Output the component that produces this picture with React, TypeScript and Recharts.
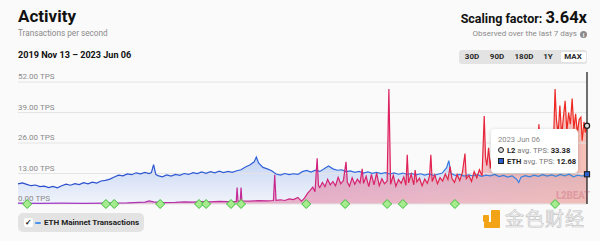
import React from "react";
import {
  ComposedChart,
  Area,
  Line,
  XAxis,
  YAxis,
  ReferenceLine,
  ReferenceDot,
} from "recharts";

// days since 2019 Nov 13, tps
const yTicks = [0, 13, 26, 39, 52];
const ranges = ["30D", "90D", "180D", "1Y", "MAX"];
const milestoneDays = [21, 201, 220, 325, 414, 430, 487, 510, 659, 748, 844, 880, 999, 1228];

const ethSeries: [number, number][] = [
  [0, 8.6], [10, 9.0], [20, 8.4], [30, 7.8], [40, 8.1], [50, 7.4], [60, 7.6], [70, 7.0],
  [80, 7.5], [90, 6.9], [100, 7.8], [110, 8.5], [120, 8.0], [130, 8.7], [140, 8.3], [150, 9.1],
  [160, 8.6], [170, 9.3], [180, 8.9], [190, 9.8], [200, 10.1], [210, 10.6], [220, 11.5], [230, 12.3],
  [240, 12.0], [250, 12.8], [260, 12.5], [270, 13.3], [280, 12.9], [290, 13.5], [300, 13.0], [305, 13.4],
  [310, 16.8], [315, 12.6], [320, 12.1], [330, 11.6], [340, 12.4], [350, 11.9], [360, 12.6], [370, 12.2],
  [380, 13.0], [390, 12.6], [400, 13.4], [410, 13.0], [420, 13.7], [430, 13.1], [440, 13.8], [450, 13.3],
  [460, 14.0], [470, 13.4], [480, 13.9], [490, 13.5], [500, 14.2], [510, 14.6], [520, 15.8], [530, 16.6],
  [540, 18.0], [545, 20.0], [550, 17.5], [560, 15.6], [570, 15.0], [580, 14.2], [590, 12.8], [600, 12.3],
  [610, 13.0], [620, 12.5], [630, 12.9], [640, 12.6], [650, 13.8], [660, 14.3], [670, 13.6], [680, 14.4],
  [690, 13.9], [700, 15.0], [710, 16.2], [720, 15.0], [730, 14.4], [740, 14.6], [750, 13.8], [760, 14.1],
  [770, 13.5], [780, 13.9], [790, 13.2], [800, 13.7], [810, 13.1], [820, 13.5], [830, 13.0], [840, 13.4],
  [850, 12.8], [860, 13.3], [870, 12.7], [880, 13.2], [890, 12.6], [900, 13.0], [910, 12.4], [920, 12.9],
  [930, 12.3], [940, 12.8], [950, 12.2], [960, 12.7], [970, 13.2], [980, 15.5], [985, 18.5], [990, 13.0],
  [1000, 12.2], [1010, 12.6], [1020, 11.9], [1030, 12.4], [1040, 12.0], [1050, 12.5], [1060, 11.8], [1070, 12.3],
  [1080, 12.0], [1090, 12.6], [1100, 11.7], [1110, 12.2], [1120, 11.5], [1130, 12.0], [1140, 10.6], [1145, 9.2],
  [1150, 11.4], [1160, 12.1], [1170, 11.6], [1180, 12.3], [1190, 11.8], [1200, 12.5], [1210, 11.9], [1220, 12.4],
  [1230, 11.8], [1240, 12.6], [1250, 12.0], [1260, 12.7], [1270, 11.6], [1280, 12.3], [1290, 11.9], [1301, 12.68],
];

const l2Series: [number, number][] = [
  [0, 0.4], [50, 0.3], [100, 0.4], [150, 0.3], [200, 0.4], [250, 0.5], [290, 0.8], [300, 1.3],
  [310, 0.9], [330, 0.6], [360, 0.7], [380, 0.9], [400, 0.8], [420, 1.0], [440, 0.9], [460, 1.1],
  [480, 1.0], [499, 1.0], [501, 7.0], [503, 1.2], [508, 1.1], [510, 7.0], [512, 1.3], [530, 1.2],
  [550, 1.4], [570, 1.3], [584, 1.5], [587, 12.5], [590, 1.6], [600, 1.8], [610, 1.5], [620, 2.2],
  [630, 1.9], [640, 2.8], [648, 1.2], [655, 2.5], [662, 4.5], [668, 5.8], [674, 7.2], [679, 5.2],
  [684, 19.5], [687, 8.0], [690, 7.0], [696, 9.2], [702, 7.4], [708, 10.5], [714, 8.2], [720, 9.6],
  [726, 7.8], [732, 11.4], [738, 8.6], [744, 10.0], [750, 18.0], [753, 9.4], [758, 7.6], [764, 11.2],
  [770, 8.4], [776, 10.6], [782, 9.0], [787, 15.0], [790, 8.8], [796, 11.8], [802, 7.4], [808, 12.6],
  [814, 8.2], [820, 13.2], [826, 7.8], [832, 10.8], [838, 8.6], [844, 9.8], [848, 49.0], [852, 8.4],
  [858, 12.2], [864, 7.6], [870, 10.4], [876, 8.8], [882, 11.6], [887, 8.0], [890, 21.0], [893, 9.0],
  [899, 12.8], [905, 8.2], [908, 14.5], [912, 9.4], [918, 11.0], [924, 7.8], [930, 10.6], [936, 8.8],
  [941, 12.0], [944, 21.0], [947, 9.6], [953, 12.4], [959, 8.6], [965, 11.2], [971, 9.8], [977, 12.8],
  [983, 10.4], [988, 16.0], [992, 11.0], [998, 9.2], [1004, 12.6], [1010, 10.0], [1016, 13.4], [1022, 21.5],
  [1025, 10.8], [1031, 12.2], [1037, 9.6], [1043, 13.8], [1049, 11.2], [1055, 14.6], [1061, 12.0], [1066, 37.5],
  [1069, 20.0], [1072, 16.4], [1076, 24.0], [1080, 15.2], [1084, 21.6], [1089, 17.0], [1095, 19.6], [1101, 15.8],
  [1107, 22.4], [1113, 17.2], [1119, 20.2], [1125, 16.0], [1130, 31.5], [1133, 18.4], [1139, 21.0], [1145, 15.6],
  [1151, 19.2], [1157, 23.0], [1163, 17.4], [1169, 20.6], [1175, 18.0], [1181, 24.6], [1187, 19.4], [1191, 34.0],
  [1195, 21.0], [1201, 25.5], [1207, 22.0], [1213, 28.0], [1219, 24.0], [1225, 30.0], [1228, 49.0], [1231, 36.0],
  [1235, 30.0], [1239, 42.0], [1243, 29.0], [1247, 37.0], [1251, 44.0], [1255, 31.0], [1259, 39.0], [1263, 34.0],
  [1267, 45.0], [1271, 32.0], [1275, 38.5], [1279, 30.0], [1283, 36.0], [1287, 37.0], [1290, 27.0], [1294, 35.0],
  [1297, 30.5], [1301, 33.38],
];

const lastDay = 1301;
const lastL2 = 33.38;
const lastEth = 12.68;

const ethData = ethSeries.map(([d, v]) => ({ d, v }));
const l2Data = l2Series.map(([d, v]) => ({ d, v }));

const font = "Roboto, 'Noto Sans', sans-serif";

function Diamond(props: any) {
  const { cx, cy } = props;
  const s = 4.5;
  return (
    <polygon
      points={`${cx},${cy - s} ${cx + s},${cy} ${cx},${cy + s} ${cx - s},${cy}`}
      fill="#a6ec8e"
      stroke="#3ebd3e"
      strokeWidth={1}
    />
  );
}

function L2Dot(props: any) {
  return <circle cx={props.cx} cy={props.cy} r={2.6} fill="#d9d9d9" stroke="#1a1a1a" strokeWidth={1.2} />;
}

function EthDot(props: any) {
  return (
    <rect x={props.cx - 2.6} y={props.cy - 2.6} width={5.2} height={5.2} fill="#2b5fd0" stroke="#1a1a1a" strokeWidth={1} />
  );
}

function GridLabel(props: any) {
  const vb = props.viewBox || {};
  return (
    <text x={vb.x} y={vb.y - 3} fill="#8a8a8a" fontSize={8} fontFamily={font}>
      {props.value}
    </text>
  );
}

export default function App() {
  return (
    <div
      style={{
        position: "absolute",
        left: 0,
        top: 0,
        width: 600,
        height: 241,
        background: "#fafafa",
        fontFamily: font,
        overflow: "hidden",
      }}
    >
      <div style={{ position: "absolute", left: 18, top: 8.3, fontSize: 17, lineHeight: "17px", fontWeight: 700, color: "#111" }}>
        Activity
      </div>
      <div style={{ position: "absolute", left: 18, top: 29.3, fontSize: 8.2, lineHeight: "8px", color: "#8a8a8a" }}>
        Transactions per second
      </div>
      <div style={{ position: "absolute", left: 18, top: 51, fontSize: 9.1, lineHeight: "9.3px", fontWeight: 700, color: "#111" }}>
        2019 Nov 13 – 2023 Jun 06
      </div>

      <div style={{ position: "absolute", right: 13, top: 8.6, fontSize: 16.5, lineHeight: "17px", whiteSpace: "nowrap", color: "#111", fontWeight: 700 }}>
        <span style={{ fontSize: 12.5 }}>Scaling factor: </span>
        <span>3.64x</span>
      </div>
      <div style={{ position: "absolute", right: 13, top: 29.5, fontSize: 8, lineHeight: "8px", color: "#8a8a8a", whiteSpace: "nowrap" }}>
        Observed over the last 7 days
        <span
          style={{
            display: "inline-block",
            width: 7,
            height: 7,
            borderRadius: 4,
            background: "#8a8a8a",
            color: "#fafafa",
            fontSize: 6,
            lineHeight: "7px",
            textAlign: "center",
            fontWeight: 700,
            marginLeft: 3,
            verticalAlign: "-1px",
          }}
        >
          i
        </span>
      </div>

      <div style={{ position: "absolute", left: 459, top: 50, width: 128, height: 14, background: "#e3e3e3", borderRadius: 3 }}>
        {ranges.map((r, i) => {
          const centers = [13, 38, 65, 89, 114];
          const active = r === "MAX";
          return (
            <div
              key={r}
              style={{
                position: "absolute",
                left: centers[i] - 12.5,
                top: 2,
                width: 25,
                height: 10,
                borderRadius: 2,
                background: active ? "#ffffff" : "transparent",
                fontSize: 8,
                fontWeight: 700,
                lineHeight: "10px",
                textAlign: "center",
                color: "#2a2a2a",
              }}
            >
              {r}
            </div>
          );
        })}
      </div>

      <div style={{ position: "absolute", left: 0, top: 0 }}>
        <ComposedChart width={600} height={241} margin={{ top: 72, right: 13, bottom: 37, left: 18 }}>
          <defs>
            <linearGradient id="ethFill" x1="0" y1="0" x2="0" y2="1">
              <stop offset="0%" stopColor="#86a8ee" stopOpacity={0.8} />
              <stop offset="100%" stopColor="#e1e9fa" stopOpacity={0.65} />
            </linearGradient>
            <linearGradient id="ethStroke" x1="0" y1="0" x2="1" y2="0">
              <stop offset="0%" stopColor="#2a4ccc" />
              <stop offset="50%" stopColor="#2f63da" />
              <stop offset="100%" stopColor="#3f8fe6" />
            </linearGradient>
            <linearGradient id="l2Fill" x1="0" y1="0" x2="1" y2="0">
              <stop offset="0%" stopColor="#cc4a9e" stopOpacity={0.8} />
              <stop offset="50%" stopColor="#de6a94" stopOpacity={0.8} />
              <stop offset="75%" stopColor="#e77e92" stopOpacity={0.82} />
              <stop offset="100%" stopColor="#ef8a7a" stopOpacity={0.85} />
            </linearGradient>
            <linearGradient id="l2Stroke" x1="0" y1="0" x2="1" y2="0">
              <stop offset="0%" stopColor="#9b3fd0" />
              <stop offset="45%" stopColor="#c8288e" />
              <stop offset="62%" stopColor="#dc2068" />
              <stop offset="80%" stopColor="#e6243f" />
              <stop offset="100%" stopColor="#f02a1c" />
            </linearGradient>
          </defs>
          <XAxis dataKey="d" type="number" domain={[0, lastDay]} hide />
          <YAxis type="number" domain={[0, 56.3]} hide />
          {yTicks.map((t) => (
            <ReferenceLine
              key={t}
              y={t}
              stroke="#e4e4e4"
              strokeWidth={1}
              label={<GridLabel value={`${t.toFixed(2)} TPS`} />}
            />
          ))}
          <Area data={ethData} dataKey="v" type="linear" stroke="none" fill="url(#ethFill)" isAnimationActive={false} />
          <Area data={l2Data} dataKey="v" type="linear" stroke="none" fill="url(#l2Fill)" isAnimationActive={false} />
          <Line data={ethData} dataKey="v" type="linear" stroke="url(#ethStroke)" strokeWidth={1.2} dot={false} isAnimationActive={false} />
          <Line data={l2Data} dataKey="v" type="linear" stroke="url(#l2Stroke)" strokeWidth={1.2} dot={false} isAnimationActive={false} />
          <ReferenceLine x={lastDay} stroke="#111" strokeWidth={1.2} />
          {milestoneDays.map((d) => (
            <ReferenceDot key={d} x={d} y={0} r={4} shape={<Diamond />} ifOverflow="visible" />
          ))}
          <ReferenceDot x={lastDay} y={lastL2} r={3} shape={<L2Dot />} ifOverflow="visible" />
          <ReferenceDot x={lastDay} y={lastEth} r={3} shape={<EthDot />} ifOverflow="visible" />
        </ComposedChart>
      </div>

      <div style={{ position: "absolute", left: 556, top: 190, fontSize: 10, fontWeight: 900, color: "rgba(190,70,100,0.28)", letterSpacing: -0.3 }}>
        L2BEAT
      </div>

      <div
        style={{
          position: "absolute",
          left: 491,
          top: 129,
          width: 87,
          height: 44,
          background: "#ffffff",
          borderRadius: 4,
          boxShadow: "0 1px 4px rgba(0,0,0,0.18)",
          fontSize: 7.6,
          color: "#777",
        }}
      >
        <div style={{ position: "absolute", left: 7, top: 7, lineHeight: "8px", color: "#888" }}>2023 Jun 06</div>
        <div style={{ position: "absolute", left: 7, top: 18, lineHeight: "8px", whiteSpace: "nowrap" }}>
          <span style={{ display: "inline-block", width: 4, height: 4, borderRadius: 3, border: "1px solid #222", background: "#ddd", marginRight: 3, verticalAlign: "0px" }} />
          <b style={{ color: "#222" }}>L2</b> avg. TPS: <b style={{ color: "#222" }}>{lastL2.toFixed(2)}</b>
        </div>
        <div style={{ position: "absolute", left: 7, top: 28.5, lineHeight: "8px", whiteSpace: "nowrap" }}>
          <span style={{ display: "inline-block", width: 4, height: 4, border: "1px solid #222", background: "#2b5fd0", marginRight: 3, verticalAlign: "0px" }} />
          <b style={{ color: "#222" }}>ETH</b> avg. TPS: <b style={{ color: "#222" }}>{lastEth.toFixed(2)}</b>
        </div>
      </div>

      <div style={{ position: "absolute", left: 18, top: 213, width: 126, height: 19, background: "#e3e3e3", borderRadius: 5 }}>
        <div style={{ position: "absolute", left: 6, top: 5, width: 9, height: 9, background: "#fff", borderRadius: 2, fontSize: 8, lineHeight: "9px", textAlign: "center", color: "#111", fontWeight: 700 }}>
          ✓
        </div>
        <div style={{ position: "absolute", left: 17, top: 8.5, width: 6, height: 2.5, background: "#4c94e8", borderRadius: 1 }} />
        <div style={{ position: "absolute", left: 26, top: 5.5, fontSize: 8, lineHeight: "8px", fontWeight: 700, color: "#222", whiteSpace: "nowrap" }}>
          ETH Mainnet Transactions
        </div>
      </div>

      <div style={{ position: "absolute", left: 483, top: 215, width: 6, height: 7, background: "#f2a316", borderRadius: 1 }} />
      <div style={{ position: "absolute", left: 491, top: 210, width: 9, height: 18, background: "#f2a316", borderRadius: 1 }} />
      <div style={{ position: "absolute", left: 484, top: 222, width: 8, height: 6, background: "#f2a316", borderRadius: 1 }} />
      <div
        style={{
          position: "absolute",
          left: 505,
          top: 208,
          fontSize: 19,
          lineHeight: "20px",
          fontFamily: "'Noto Sans CJK SC', sans-serif",
          color: "#f5f5f5",
          WebkitTextStroke: "0.6px #c4c4c4",
          letterSpacing: 1,
        }}
      >
        金色财经
      </div>
    </div>
  );
}
